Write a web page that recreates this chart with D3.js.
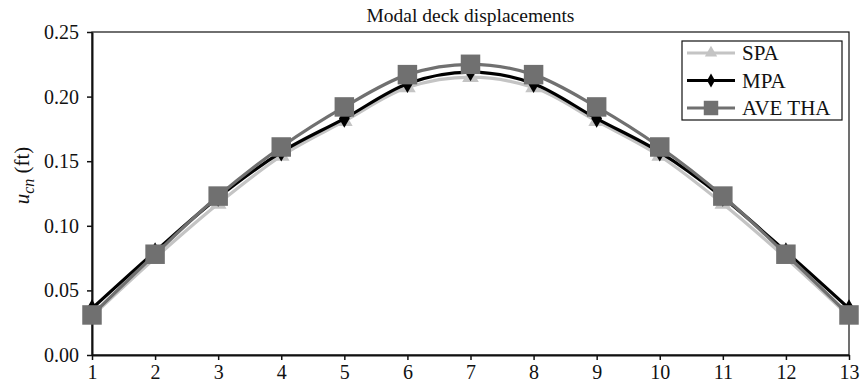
<!DOCTYPE html>
<html>
<head>
<meta charset="utf-8">
<script src="https://cdn.jsdelivr.net/npm/d3@7"></script>
<style>
  body { margin:0; background:#fff; }
  svg text { font-family:"Liberation Serif", "DejaVu Serif", serif; fill:#111; }
</style>
</head>
<body>
<svg id="chart"></svg>
<script>
const nodes = [1,2,3,4,5,6,7,8,9,10,11,12,13];
const spa = [0.030,0.075,0.117,0.154,0.181,0.207,0.215,0.207,0.181,0.154,0.117,0.075,0.030];
const mpa = [0.036,0.080,0.122,0.157,0.183,0.210,0.219,0.210,0.183,0.157,0.122,0.080,0.036];
const ave = [0.031,0.078,0.123,0.161,0.192,0.217,0.225,0.217,0.192,0.161,0.123,0.078,0.031];
const yTicks = [0,0.05,0.10,0.15,0.20,0.25];

const W = 863, H = 390;
const margin = {top:32, right:14, bottom:35, left:92};
const innerW = W - margin.left - margin.right;
const innerH = H - margin.top - margin.bottom;

const svg = d3.select("#chart").attr("width",W).attr("height",H);
const g = svg.append("g").attr("transform",`translate(${margin.left},${margin.top})`);

const x = d3.scaleLinear().domain([1,13]).range([0,innerW]);
const y = d3.scaleLinear().domain([0,0.25]).range([innerH,0]);

// frame
g.append("rect")
  .attr("width",innerW).attr("height",innerH)
  .attr("fill","none").attr("stroke","#111").attr("stroke-width",1.2);

const xAxis = g.append("g")
  .attr("transform",`translate(0,${innerH})`)
  .call(d3.axisBottom(x).tickValues(nodes).tickFormat(d3.format("d")).tickSize(5).tickSizeOuter(0));
const yAxis = g.append("g")
  .call(d3.axisLeft(y).tickValues(yTicks).tickFormat(d3.format(".2f")).tickSize(5).tickSizeOuter(0));

[xAxis,yAxis].forEach(a=>{
  a.attr("font-family",null);
  a.select(".domain").attr("stroke","#111").attr("stroke-width",2);
  a.selectAll(".tick line").attr("stroke","#111").attr("stroke-width",1.5);
  a.selectAll("text").attr("font-size",20).attr("fill","#111");
});
xAxis.selectAll("text").attr("y",9).attr("dy","0.75em");
yAxis.selectAll("text").attr("x",-13);

// title
svg.append("text")
  .attr("x",margin.left+innerW/2).attr("y",22)
  .attr("text-anchor","middle").attr("font-size",19.5)
  .text("Modal deck displacements");

// y label
const yl = svg.append("text")
  .attr("transform",`translate(29,${margin.top+innerH/2 - 18}) rotate(-90)`)
  .attr("text-anchor","middle").attr("font-size",21);
yl.append("tspan").attr("font-style","italic").text("u");
yl.append("tspan").attr("font-style","italic").attr("font-size",16).attr("dy",5).text("cn");
yl.append("tspan").attr("dy",-5).text(" (ft)");

const series = [
  {name:"SPA", values:spa, color:"#c4c4c4", symbol:d3.symbolTriangle, size:120},
  {name:"MPA", values:mpa, color:"#000000", symbol:d3.symbolDiamond, size:100},
  {name:"AVE THA", values:ave, color:"#707070", symbol:d3.symbolSquare, size:380}
];

const line = d3.line()
  .x((d,i)=>x(nodes[i]))
  .y(d=>y(d))
  .curve(d3.curveMonotoneX);

series.forEach(s=>{
  g.append("path")
    .datum(s.values)
    .attr("d",line)
    .attr("fill","none")
    .attr("stroke",s.color)
    .attr("stroke-width",3.2);
  g.selectAll(null)
    .data(s.values)
    .join("path")
    .attr("transform",(d,i)=>`translate(${x(nodes[i])},${y(d)})`)
    .attr("d",d3.symbol().type(s.symbol).size(s.size))
    .attr("fill",s.color);
});

// legend
const lg = svg.append("g").attr("transform","translate(682,41)");
lg.append("rect").attr("width",160).attr("height",79)
  .attr("fill","#fff").attr("stroke","#111").attr("stroke-width",1.2);
series.forEach((s,i)=>{
  const yy = 12 + i*27.5;
  lg.append("line").attr("x1",5).attr("x2",53).attr("y1",yy).attr("y2",yy)
    .attr("stroke",s.color).attr("stroke-width",3.2);
  lg.append("path")
    .attr("transform",`translate(29,${yy})`)
    .attr("d",d3.symbol().type(s.symbol).size(s.size*0.55))
    .attr("fill",s.color);
  lg.append("text").attr("x",60).attr("y",yy+7).attr("font-size",21).text(s.name);
});
</script>
</body>
</html>
